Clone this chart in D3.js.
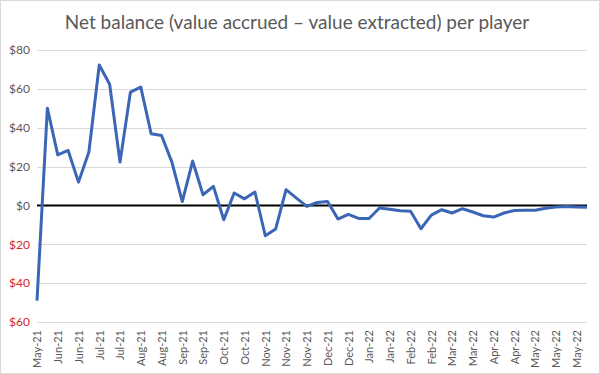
<!DOCTYPE html>
<html>
<head>
<meta charset="utf-8">
<script src="https://cdn.jsdelivr.net/npm/d3@7"></script>
<style>
  body { margin: 0; background: #fff; }
  svg { display: block; font-family: Lato, "Open Sans", sans-serif; }
  .grid line { stroke: #d9d9d9; stroke-width: 1; }
</style>
</head>
<body>
<div id="chart"></div>
<script>
// weekly net balance per player, May-21 .. May-22
var values = [-49, 50, 26, 28.3, 12, 27.5, 72.3, 62.4, 22.3, 58.3, 60.9, 36.9, 36, 22.3,
  2, 22.8, 5.5, 9.8, -7.4, 6.4, 3.4, 6.9, -15.6, -12.1, 8.1, 3.8, -0.5, 1.5, 2, -7,
  -4.6, -6.7, -6.7, -1.3, -2, -2.7, -3, -12, -5, -2.2, -3.9, -1.7, -3.4, -5.3, -6,
  -3.9, -2.6, -2.5, -2.5, -1.5, -0.8, -0.5, -0.8, -1];

// one label for every second week
var tickLabels = ["May-21", "Jun-21", "Jun-21", "Jul-21", "Jul-21", "Aug-21", "Aug-21",
  "Sep-21", "Sep-21", "Oct-21", "Oct-21", "Nov-21", "Nov-21", "Nov-21", "Dec-21",
  "Dec-21", "Jan-22", "Jan-22", "Feb-22", "Feb-22", "Mar-22", "Mar-22", "Apr-22",
  "Apr-22", "May-22", "May-22", "May-22"];

var yTicks = [-60, -40, -20, 0, 20, 40, 60, 80];

var title = "Net balance (value accrued \u2013 value extracted) per player";

(function() {
  var W = 600, H = 374;
  var margin = {left: 37, right: 13, top: 50, bottom: 52};

  var svg = d3.select("#chart").append("svg")
    .attr("width", W)
    .attr("height", H);

  svg.append("rect")
    .attr("x", 0.5).attr("y", 0.5)
    .attr("width", W - 1).attr("height", H - 1)
    .attr("fill", "#fff")
    .attr("stroke", "#d9d9d9");

  svg.append("text")
    .attr("x", 297)
    .attr("y", 29)
    .attr("text-anchor", "middle")
    .attr("fill", "#595959")
    .style("font-size", "19px")
    .text(title);

  var x = d3.scalePoint()
    .domain(d3.range(values.length))
    .range([margin.left, W - margin.right]);

  var y = d3.scaleLinear()
    .domain([-60, 80])
    .range([H - margin.bottom, margin.top]);

  // gridlines
  svg.append("g")
    .attr("class", "grid")
    .selectAll("line")
    .data(yTicks.filter(function(d) { return d !== 0; }))
    .enter().append("line")
      .attr("x1", margin.left)
      .attr("x2", W - margin.right)
      .attr("y1", function(d) { return Math.round(y(d)) + 0.5; })
      .attr("y2", function(d) { return Math.round(y(d)) + 0.5; });

  // y axis labels
  var yAxis = d3.axisLeft(y)
    .tickValues(yTicks)
    .tickSize(0)
    .tickPadding(7)
    .tickFormat(function(d) { return "$" + Math.abs(d); });

  svg.append("g")
    .attr("transform", "translate(" + margin.left + ",0)")
    .call(yAxis)
    .call(function(g) { g.select(".domain").remove(); })
    .selectAll("text")
      .style("font-family", "Lato, 'Open Sans', sans-serif")
      .style("font-size", "12px")
      .attr("fill", function(d) { return d < 0 ? "#d0282e" : "#595959"; });

  // x axis labels, every second week
  var xAxis = d3.axisBottom(x)
    .tickValues(d3.range(0, values.length, 2))
    .tickSize(0)
    .tickFormat(function(d, i) { return tickLabels[i]; });

  svg.append("g")
    .attr("transform", "translate(0," + (H - margin.bottom) + ")")
    .call(xAxis)
    .call(function(g) { g.select(".domain").remove(); })
    .selectAll("text")
      .style("font-family", "Lato, 'Open Sans', sans-serif")
      .style("font-size", "11px")
      .attr("fill", "#595959")
      .attr("text-anchor", "end")
      .attr("dy", "0.35em")
      .attr("transform", "translate(0,8) rotate(-90)")
      .attr("x", 0)
      .attr("y", 0);

  // zero line
  svg.append("line")
    .attr("x1", margin.left)
    .attr("x2", W - margin.right)
    .attr("y1", y(0))
    .attr("y2", y(0))
    .attr("stroke", "#000")
    .attr("stroke-width", 2);

  var line = d3.line()
    .x(function(d, i) { return x(i); })
    .y(function(d) { return y(d); });

  svg.append("path")
    .datum(values)
    .attr("d", line)
    .attr("fill", "none")
    .attr("stroke", "#3b66b5")
    .attr("stroke-width", 3)
    .attr("stroke-linejoin", "round");
})();
</script>
</body>
</html>
